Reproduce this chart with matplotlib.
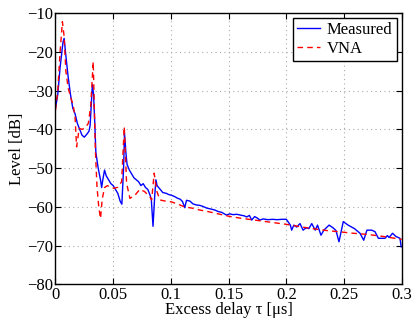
import matplotlib
matplotlib.use("Agg")
import matplotlib.pyplot as plt

plt.rcParams['font.family'] = ['Liberation Serif', 'DejaVu Serif']

# measured channel response (excess delay in us, level in dB)
meas_tau = [0.000, 0.002, 0.004, 0.0065, 0.0075, 0.009, 0.011, 0.013, 0.015, 0.017,
            0.019, 0.021, 0.023, 0.025, 0.027, 0.029, 0.030, 0.0315, 0.032, 0.033,
            0.034, 0.035, 0.037, 0.039, 0.040, 0.041, 0.0425, 0.044, 0.046, 0.048,
            0.050, 0.052, 0.054, 0.056, 0.0575, 0.059, 0.0598, 0.061, 0.062, 0.064,
            0.066, 0.068, 0.070, 0.072, 0.074, 0.076, 0.078, 0.080, 0.082, 0.083,
            0.0845, 0.086, 0.087, 0.088, 0.0905, 0.093, 0.096, 0.098, 0.1006, 0.103,
            0.106, 0.108, 0.110, 0.112, 0.1135, 0.1165, 0.119, 0.122, 0.125, 0.128,
            0.131, 0.134, 0.138, 0.141, 0.144, 0.148, 0.151, 0.154, 0.157, 0.160,
            0.1635, 0.1656, 0.168, 0.170, 0.1725, 0.175, 0.177, 0.180, 0.184, 0.188,
            0.192, 0.196, 0.2, 0.2035, 0.2046, 0.2065, 0.209, 0.2118, 0.2145, 0.217,
            0.2195, 0.222, 0.225, 0.227, 0.23, 0.2325, 0.237, 0.2405, 0.243, 0.2456,
            0.2493, 0.2535, 0.259, 0.2638, 0.267, 0.2698, 0.274, 0.2768, 0.2797, 0.2855,
            0.2875, 0.289, 0.292, 0.2948, 0.2984, 0.2995]
meas_db = [-34.5, -31, -24, -17.5, -16.5, -21, -26.5, -31, -34.5, -36,
           -38.5, -40, -41.5, -42, -41.3, -40.5, -39, -31, -28.5, -31,
           -38, -46, -50, -53, -55, -53, -50.5, -52, -53, -54,
           -54.5, -55.5, -56.5, -58.5, -59.3, -50, -41, -46, -49, -50.5,
           -51.5, -52.5, -53, -53.5, -54.5, -54, -55, -55.5, -57, -58,
           -65, -57, -53, -54.5, -55.4, -56.3, -56.5, -56.8, -57, -57.3,
           -57.8, -58, -58.6, -60.2, -58.3, -58.5, -59.2, -59.5, -59.6, -59.9,
           -60.3, -60.5, -60.8, -61.2, -61.4, -62.1, -61.8, -62.0, -61.9, -62.1,
           -62.3, -62.6, -62.2, -63.4, -62.5, -62.9, -63.4, -63.1, -63.3, -63.2,
           -63.3, -63.2, -63.2, -64.7, -66, -64.7, -65.2, -64.3, -66, -65.4,
           -65.6, -64.3, -66, -64.7, -67.3, -66, -64.7, -65.4, -66.1, -69,
           -63.8, -64.7, -65.6, -66.8, -68.6, -66, -66, -66.4, -68.1, -68.1,
           -67.4, -67.9, -66.8, -67.6, -68.1, -70.3]

# VNA reference
vna_tau = [0.000, 0.002, 0.004, 0.006, 0.0075, 0.009, 0.011, 0.013, 0.0155, 0.017,
           0.0183, 0.0195, 0.0205, 0.023, 0.026, 0.0285, 0.0305, 0.0327, 0.0345, 0.036,
           0.0375, 0.039, 0.0405, 0.0425, 0.045, 0.048, 0.051, 0.054, 0.0573, 0.0596,
           0.0616, 0.0645, 0.0688, 0.073, 0.077, 0.0818, 0.0833, 0.0855, 0.0875, 0.0905,
           0.095, 0.1006, 0.106, 0.112, 0.118, 0.125, 0.132, 0.1425, 0.150, 0.160,
           0.170, 0.180, 0.190, 0.200, 0.210, 0.220, 0.235, 0.245, 0.258, 0.270,
           0.281, 0.290, 0.298, 0.300]
vna_db = [-35, -30, -20, -12.2, -16, -25, -29.3, -31.5, -34, -37,
          -44.5, -42, -39.7, -40, -39.5, -38.4, -34, -22.5, -45, -55,
          -60, -63, -58, -55, -54.5, -55, -55.2, -54.9, -53.5, -39.3,
          -53.9, -57.8, -57, -55.5, -56, -57.4, -58.2, -51.3, -55.7, -58.2,
          -58.5, -58.7, -59.3, -60, -60.3, -60.8, -61.2, -61.9, -62.4, -62.9,
          -63.3, -63.7, -64.1, -64.5, -65.0, -65.5, -66.1, -66.4, -66.8, -67.1,
          -67.5, -67.9, -68.3, -68.4]

fig = plt.figure(figsize=(4.14, 3.21), dpi=100)
ax = fig.add_axes([0.134, 0.114, 0.8365, 0.845])

ax.plot(meas_tau, meas_db, color='blue', lw=1.0, label='Measured')
ax.plot(vna_tau, vna_db, color='red', lw=1.0, ls=(0, (4, 3)), label='VNA')

ax.set_xlim(0, 0.3)
ax.set_ylim(-80, -10)
ax.set_xticks([0, 0.05, 0.1, 0.15, 0.2, 0.25, 0.3])
ax.set_xticklabels(['0', '0.05', '0.1', '0.15', '0.2', '0.25', '0.3'])
ax.set_yticks(range(-80, -9, 10))
ax.set_yticklabels(['\u221280', '\u221270', '\u221260', '\u221250', '\u221240',
                    '\u221230', '\u221220', '\u221210'])
ax.grid(True, color='#aaaaaa', ls=(0, (1, 3)), lw=0.8)
ax.tick_params(direction='in', top=True, right=True, labelsize=12, length=4, pad=2)
for s in ax.spines.values():
    s.set_linewidth(1.0)

ax.set_xlabel('Excess delay \u03c4 [\u03bcs]', fontsize=12, labelpad=-1)
ax.set_ylabel('Level [dB]', fontsize=12, labelpad=1)

leg = ax.legend(loc='upper right', fontsize=12, fancybox=False, framealpha=1,
                edgecolor='black', handlelength=1.4, borderpad=0.25,
                labelspacing=0.15, handletextpad=0.4, borderaxespad=0.3)
leg.get_frame().set_linewidth(1.0)

fig.savefig('out.png', dpi=100)
